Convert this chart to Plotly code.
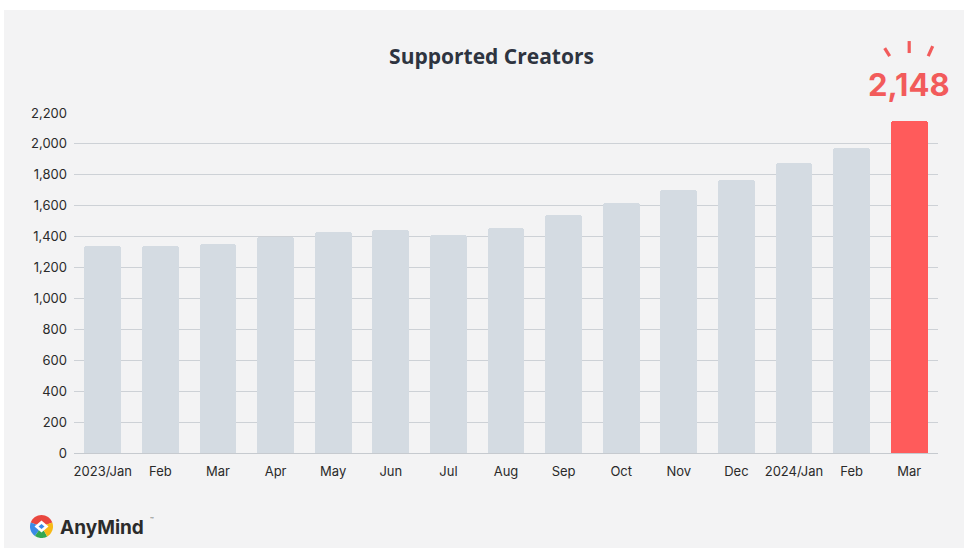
import math
import plotly.graph_objects as go

# ---- data ----
months = ["2023/Jan", "Feb", "Mar", "Apr", "May", "Jun", "Jul", "Aug",
          "Sep", "Oct", "Nov", "Dec", "2024/Jan", "Feb", "Mar"]
creators = [1337, 1337, 1353, 1398, 1430, 1443, 1408, 1456,
            1540, 1618, 1702, 1769, 1874, 1976, 2148]
y_max = 2200
y_ticks = list(range(0, y_max + 1, 200))
title_text = "Supported Creators"

# ---- style / layout ----
W, H = 964, 548
L, R, T, B = 74, 26, 113, 95
BG = "#F3F3F4"
BAR = "#D4DBE2"
HIGHLIGHT = "#FF5B5B"
TEXT_RED = "#F25B5B"

xpos = list(range(len(months)))
colors = [BAR] * (len(months) - 1) + [HIGHLIGHT]

pw, ph = W - L - R, H - T - B
def px(xr):  # page pixel -> paper x
    return (xr - L) / pw
def py(yr):  # page pixel -> paper y
    return (H - B - yr) / ph

fig = go.Figure()
fig.add_trace(go.Bar(
    x=xpos, y=creators, width=0.64,
    marker=dict(color=colors, cornerradius=3, line=dict(width=0)),
    hoverinfo="skip",
))

shapes = []
# outer light-gray panel with thin white border top/left
shapes.append(dict(type="rect", xref="paper", yref="paper", layer="below",
                   x0=px(4), x1=px(W + 5), y0=py(H + 5), y1=py(10),
                   fillcolor=BG, line=dict(width=0)))

# burst strokes above the highlighted bar (pixel offsets from bar top)
last = xpos[-1]
for (x0, y0, x1, y1) in [(-24.5, 73, -19.5, 65), (0, 80, 0, 68), (23.5, 75, 19, 65)]:
    shapes.append(dict(type="line", xref="x", yref="paper",
                       xsizemode="pixel", ysizemode="pixel",
                       xanchor=last, yanchor=creators[-1] / y_max,
                       x0=x0, x1=x1, y0=y0, y1=y1,
                       line=dict(color=TEXT_RED, width=3.2)))

# AnyMind logo icon (approximation)
cx, cy, r = 41.5, 526.5, 11.5
def poly(pts):
    return "M " + " L ".join(f"{px(a):.5f},{py(b):.5f}" for a, b in pts) + " Z"
def wedge(a0, a1, color):
    pts = [(cx, cy)]
    n = 16
    for i in range(n + 1):
        a = math.radians(a0 + (a1 - a0) * i / n)
        pts.append((cx + r * math.cos(a), cy - r * math.sin(a)))
    return dict(type="path", xref="paper", yref="paper", path=poly(pts),
                fillcolor=color, line=dict(width=0))
shapes.append(wedge(20, 160, "#E9473F"))
shapes.append(wedge(160, 235, "#3B8BE6"))
shapes.append(wedge(235, 300, "#33A852"))
shapes.append(wedge(300, 380, "#F7B916"))
shapes.append(dict(type="path", xref="paper", yref="paper",
                   path=poly([(34.5, 526.5), (41.5, 520.5), (48.5, 526.5), (41.5, 532.5)]),
                   fillcolor="white", line=dict(width=0)))
shapes.append(dict(type="path", xref="paper", yref="paper",
                   path=poly([(38.5, 526.5), (41.5, 524), (44.5, 526.5), (41.5, 529)]),
                   fillcolor="#3B8BE6", line=dict(width=0)))

annotations = [
    dict(x=last, y=creators[-1], xref="x", yref="y",
         text=f"<b>{creators[-1]:,}</b>", showarrow=False,
         yanchor="middle", yshift=37,
         font=dict(family="Inter", size=31, color=TEXT_RED)),
    dict(x=px(58), y=py(527), xref="paper", yref="paper",
         text="<b>AnyMind</b>", showarrow=False, xanchor="left", yanchor="middle",
         font=dict(family="Inter", size=19, color="#2B2B2B")),
    dict(x=px(148), y=py(519), xref="paper", yref="paper",
         text="™", showarrow=False, xanchor="left", yanchor="middle",
         font=dict(family="Inter", size=6, color="#555")),
]

fig.update_layout(
    width=W, height=H,
    margin=dict(l=L, r=R, t=T, b=B),
    paper_bgcolor="white", plot_bgcolor=BG,
    showlegend=False,
    bargap=0,
    title=dict(text=f"<b>{title_text}</b>", xref="container", yref="container",
               x=491.5 / W, y=1 - 57 / H,
               xanchor="center", yanchor="middle",
               font=dict(family="Open Sans", size=21, color="#2E3440")),
    xaxis=dict(range=[-0.5, len(months) - 0.5], tickvals=xpos, ticktext=months,
               showgrid=False, zeroline=False, showline=False, ticks="",
               ticklabelstandoff=9,
               tickfont=dict(family="Inter", size=13, color="#2A2A2A")),
    yaxis=dict(range=[0, y_max], tickvals=y_ticks, tickformat=",",
               showgrid=True, gridcolor="#CDD1D6", gridwidth=1,
               zeroline=True, zerolinecolor="#C6CACF", zerolinewidth=1,
               showline=False, ticks="", ticklabelstandoff=6,
               tickfont=dict(family="Inter", size=13, color="#2A2A2A")),
    shapes=shapes,
    annotations=annotations,
)

fig.write_html("out.html",
               config={"displayModeBar": False},
               post_script="document.body.style.margin='0px';document.body.style.overflow='hidden';")
